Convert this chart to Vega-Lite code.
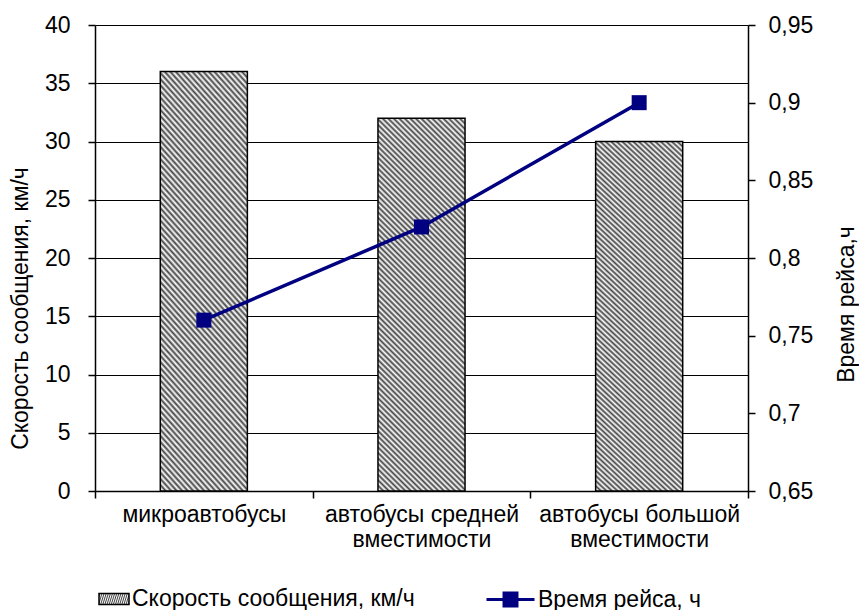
{
"$schema":"https://vega.github.io/schema/vega-lite/v6.json",
"width":653,"height":466,"autosize":"none",
"padding":{"left":95,"top":25,"right":111,"bottom":119},
"background":"white",
"config":{"font":"Liberation Sans","view":{"stroke":null},
"axis":{"labelFont":"Liberation Sans","titleFont":"Liberation Sans","labelColor":"#000","titleColor":"#000","domainColor":"#000","tickColor":"#000","labelFontSize":23,"titleFontSize":23,"titleFontWeight":"normal"},
"legend":{"labelFont":"Liberation Sans","labelColor":"#000","labelFontSize":23,"labelLimit":400}},
"data":{"values":[
{"type":"микроавтобусы","speed":36,"time":0.76},
{"type":"автобусы средней вместимости","speed":32,"time":0.82},
{"type":"автобусы большой вместимости","speed":30,"time":0.9}
]},
"layer":[
{"mark":{"type":"bar","strokeWidth":1.5,"width":{"band":0.4},
"fill":{"gradient":"linear","x1":0,"y1":1,"x2":0.2707,"y2":-0.169,"stops":[
{"offset":0,"color":"#444"},{"offset":0.00595,"color":"#fff"},{"offset":0.0119,"color":"#444"},{"offset":0.01786,"color":"#fff"},{"offset":0.02381,"color":"#444"},{"offset":0.02976,"color":"#fff"},{"offset":0.03571,"color":"#444"},{"offset":0.04167,"color":"#fff"},{"offset":0.04762,"color":"#444"},{"offset":0.05357,"color":"#fff"},
{"offset":0.05952,"color":"#444"},{"offset":0.06548,"color":"#fff"},{"offset":0.07143,"color":"#444"},{"offset":0.07738,"color":"#fff"},{"offset":0.08333,"color":"#444"},{"offset":0.08929,"color":"#fff"},{"offset":0.09524,"color":"#444"},{"offset":0.10119,"color":"#fff"},{"offset":0.10714,"color":"#444"},{"offset":0.1131,"color":"#fff"},
{"offset":0.11905,"color":"#444"},{"offset":0.125,"color":"#fff"},{"offset":0.13095,"color":"#444"},{"offset":0.1369,"color":"#fff"},{"offset":0.14286,"color":"#444"},{"offset":0.14881,"color":"#fff"},{"offset":0.15476,"color":"#444"},{"offset":0.16071,"color":"#fff"},{"offset":0.16667,"color":"#444"},{"offset":0.17262,"color":"#fff"},
{"offset":0.17857,"color":"#444"},{"offset":0.18452,"color":"#fff"},{"offset":0.19048,"color":"#444"},{"offset":0.19643,"color":"#fff"},{"offset":0.20238,"color":"#444"},{"offset":0.20833,"color":"#fff"},{"offset":0.21429,"color":"#444"},{"offset":0.22024,"color":"#fff"},{"offset":0.22619,"color":"#444"},{"offset":0.23214,"color":"#fff"},
{"offset":0.2381,"color":"#444"},{"offset":0.24405,"color":"#fff"},{"offset":0.25,"color":"#444"},{"offset":0.25595,"color":"#fff"},{"offset":0.2619,"color":"#444"},{"offset":0.26786,"color":"#fff"},{"offset":0.27381,"color":"#444"},{"offset":0.27976,"color":"#fff"},{"offset":0.28571,"color":"#444"},{"offset":0.29167,"color":"#fff"},
{"offset":0.29762,"color":"#444"},{"offset":0.30357,"color":"#fff"},{"offset":0.30952,"color":"#444"},{"offset":0.31548,"color":"#fff"},{"offset":0.32143,"color":"#444"},{"offset":0.32738,"color":"#fff"},{"offset":0.33333,"color":"#444"},{"offset":0.33929,"color":"#fff"},{"offset":0.34524,"color":"#444"},{"offset":0.35119,"color":"#fff"},
{"offset":0.35714,"color":"#444"},{"offset":0.3631,"color":"#fff"},{"offset":0.36905,"color":"#444"},{"offset":0.375,"color":"#fff"},{"offset":0.38095,"color":"#444"},{"offset":0.3869,"color":"#fff"},{"offset":0.39286,"color":"#444"},{"offset":0.39881,"color":"#fff"},{"offset":0.40476,"color":"#444"},{"offset":0.41071,"color":"#fff"},
{"offset":0.41667,"color":"#444"},{"offset":0.42262,"color":"#fff"},{"offset":0.42857,"color":"#444"},{"offset":0.43452,"color":"#fff"},{"offset":0.44048,"color":"#444"},{"offset":0.44643,"color":"#fff"},{"offset":0.45238,"color":"#444"},{"offset":0.45833,"color":"#fff"},{"offset":0.46429,"color":"#444"},{"offset":0.47024,"color":"#fff"},
{"offset":0.47619,"color":"#444"},{"offset":0.48214,"color":"#fff"},{"offset":0.4881,"color":"#444"},{"offset":0.49405,"color":"#fff"},{"offset":0.5,"color":"#444"},{"offset":0.50595,"color":"#fff"},{"offset":0.5119,"color":"#444"},{"offset":0.51786,"color":"#fff"},{"offset":0.52381,"color":"#444"},{"offset":0.52976,"color":"#fff"},
{"offset":0.53571,"color":"#444"},{"offset":0.54167,"color":"#fff"},{"offset":0.54762,"color":"#444"},{"offset":0.55357,"color":"#fff"},{"offset":0.55952,"color":"#444"},{"offset":0.56548,"color":"#fff"},{"offset":0.57143,"color":"#444"},{"offset":0.57738,"color":"#fff"},{"offset":0.58333,"color":"#444"},{"offset":0.58929,"color":"#fff"},
{"offset":0.59524,"color":"#444"},{"offset":0.60119,"color":"#fff"},{"offset":0.60714,"color":"#444"},{"offset":0.6131,"color":"#fff"},{"offset":0.61905,"color":"#444"},{"offset":0.625,"color":"#fff"},{"offset":0.63095,"color":"#444"},{"offset":0.6369,"color":"#fff"},{"offset":0.64286,"color":"#444"},{"offset":0.64881,"color":"#fff"},
{"offset":0.65476,"color":"#444"},{"offset":0.66071,"color":"#fff"},{"offset":0.66667,"color":"#444"},{"offset":0.67262,"color":"#fff"},{"offset":0.67857,"color":"#444"},{"offset":0.68452,"color":"#fff"},{"offset":0.69048,"color":"#444"},{"offset":0.69643,"color":"#fff"},{"offset":0.70238,"color":"#444"},{"offset":0.70833,"color":"#fff"},
{"offset":0.71429,"color":"#444"},{"offset":0.72024,"color":"#fff"},{"offset":0.72619,"color":"#444"},{"offset":0.73214,"color":"#fff"},{"offset":0.7381,"color":"#444"},{"offset":0.74405,"color":"#fff"},{"offset":0.75,"color":"#444"},{"offset":0.75595,"color":"#fff"},{"offset":0.7619,"color":"#444"},{"offset":0.76786,"color":"#fff"},
{"offset":0.77381,"color":"#444"},{"offset":0.77976,"color":"#fff"},{"offset":0.78571,"color":"#444"},{"offset":0.79167,"color":"#fff"},{"offset":0.79762,"color":"#444"},{"offset":0.80357,"color":"#fff"},{"offset":0.80952,"color":"#444"},{"offset":0.81548,"color":"#fff"},{"offset":0.82143,"color":"#444"},{"offset":0.82738,"color":"#fff"},
{"offset":0.83333,"color":"#444"},{"offset":0.83929,"color":"#fff"},{"offset":0.84524,"color":"#444"},{"offset":0.85119,"color":"#fff"},{"offset":0.85714,"color":"#444"},{"offset":0.8631,"color":"#fff"},{"offset":0.86905,"color":"#444"},{"offset":0.875,"color":"#fff"},{"offset":0.88095,"color":"#444"},{"offset":0.8869,"color":"#fff"},
{"offset":0.89286,"color":"#444"},{"offset":0.89881,"color":"#fff"},{"offset":0.90476,"color":"#444"},{"offset":0.91071,"color":"#fff"},{"offset":0.91667,"color":"#444"},{"offset":0.92262,"color":"#fff"},{"offset":0.92857,"color":"#444"},{"offset":0.93452,"color":"#fff"},{"offset":0.94048,"color":"#444"},{"offset":0.94643,"color":"#fff"},
{"offset":0.95238,"color":"#444"},{"offset":0.95833,"color":"#fff"},{"offset":0.96429,"color":"#444"},{"offset":0.97024,"color":"#fff"},{"offset":0.97619,"color":"#444"},{"offset":0.98214,"color":"#fff"},{"offset":0.9881,"color":"#444"},{"offset":0.99405,"color":"#fff"},{"offset":1,"color":"#444"}
]}},
"encoding":{
"x":{"field":"type","type":"nominal","sort":null,"scale":{"paddingInner":0,"paddingOuter":0},
"axis":{"title":null,"labelAngle":0,"tickBand":"extent","tickSize":7,"tickWidth":1.5,"domainWidth":1.5,"labelPadding":5,"labelLineHeight":25,"labelBaseline":"top","labelLimit":400,"labelOverlap":false,
"labelExpr":"indexof(datum.label, ' ') < 0 ? datum.label : [slice(datum.label, 0, lastindexof(datum.label, ' ')), slice(datum.label, lastindexof(datum.label, ' ') + 1)]"}},
"y":{"field":"speed","type":"quantitative","scale":{"domain":[0,40],"nice":false},
"axis":{"orient":"left","values":[0,5,10,15,20,25,30,35,40],"grid":true,"gridColor":"#000","gridWidth":1,"tickSize":7,"tickWidth":1.5,"domainWidth":1.5,"labelPadding":18,
"title":"Скорость сообщения, км/ч","titleAngle":270,"titleX":-75,"titleY":283,"titleAlign":"center","titleBaseline":"middle"}},
"stroke":{"datum":"Скорость сообщения, км/ч","scale":{"range":["#000000"]},
"legend":{"title":null,"orient":"none","legendX":3,"legendY":558,"symbolType":"M-1,-0.37H1V0.37H-1Z","symbolSize":900,"labelOffset":2,
"encode":{"symbols":{"update":{
"fill":{"value":{"gradient":"linear","x1":0,"y1":1,"x2":1.205,"y2":0.558,"stops":[
{"offset":0,"color":"#444"},{"offset":0.0714,"color":"#fff"},{"offset":0.1429,"color":"#444"},{"offset":0.2143,"color":"#fff"},{"offset":0.2857,"color":"#444"},{"offset":0.3571,"color":"#fff"},{"offset":0.4286,"color":"#444"},{"offset":0.5,"color":"#fff"},{"offset":0.5714,"color":"#444"},{"offset":0.6429,"color":"#fff"},{"offset":0.7143,"color":"#444"},{"offset":0.7857,"color":"#fff"},{"offset":0.8571,"color":"#444"},{"offset":0.9286,"color":"#fff"},{"offset":1,"color":"#444"}]}},
"stroke":{"value":"#000000"},"strokeWidth":{"value":1},"opacity":{"value":1}
}}}}}
}},
{"layer":[
{"mark":{"type":"line","strokeWidth":3.5},
"encoding":{
"x":{"field":"type","type":"nominal","sort":null},
"y":{"field":"time","type":"quantitative","scale":{"domain":[0.65,0.95],"nice":false,"zero":false},
"axis":{"orient":"right","values":[0.65,0.7,0.75,0.8,0.85,0.9,0.95],"labelExpr":"replace(format(datum.value, '.2~f'), '.', ',')","grid":false,"tickSize":7,"tickWidth":1.5,"domainWidth":1.5,"labelPadding":13,
"title":"Время рейса,ч","titleAngle":270,"titleX":98,"titleY":279,"titleAlign":"center","titleBaseline":"middle"}},
"color":{"datum":"Время рейса, ч","scale":{"range":["#000080"]},
"legend":{"title":null,"orient":"none","legendX":390,"legendY":549,"symbolType":"M-1,0H1M-0.27,-0.27H0.27V0.27H-0.27Z","symbolSize":2304,"labelOffset":2,
"encode":{"symbols":{"update":{"fill":{"value":"#000080"},"stroke":{"value":"#000080"},"strokeWidth":{"value":3},"opacity":{"value":1}}}}}}}},
{"mark":{"type":"point","shape":"square","size":225,"filled":true,"color":"#000080","opacity":1},
"encoding":{
"x":{"field":"type","type":"nominal","sort":null},
"y":{"field":"time","type":"quantitative"}}}
]}
],
"resolve":{"scale":{"y":"independent"}}
}
